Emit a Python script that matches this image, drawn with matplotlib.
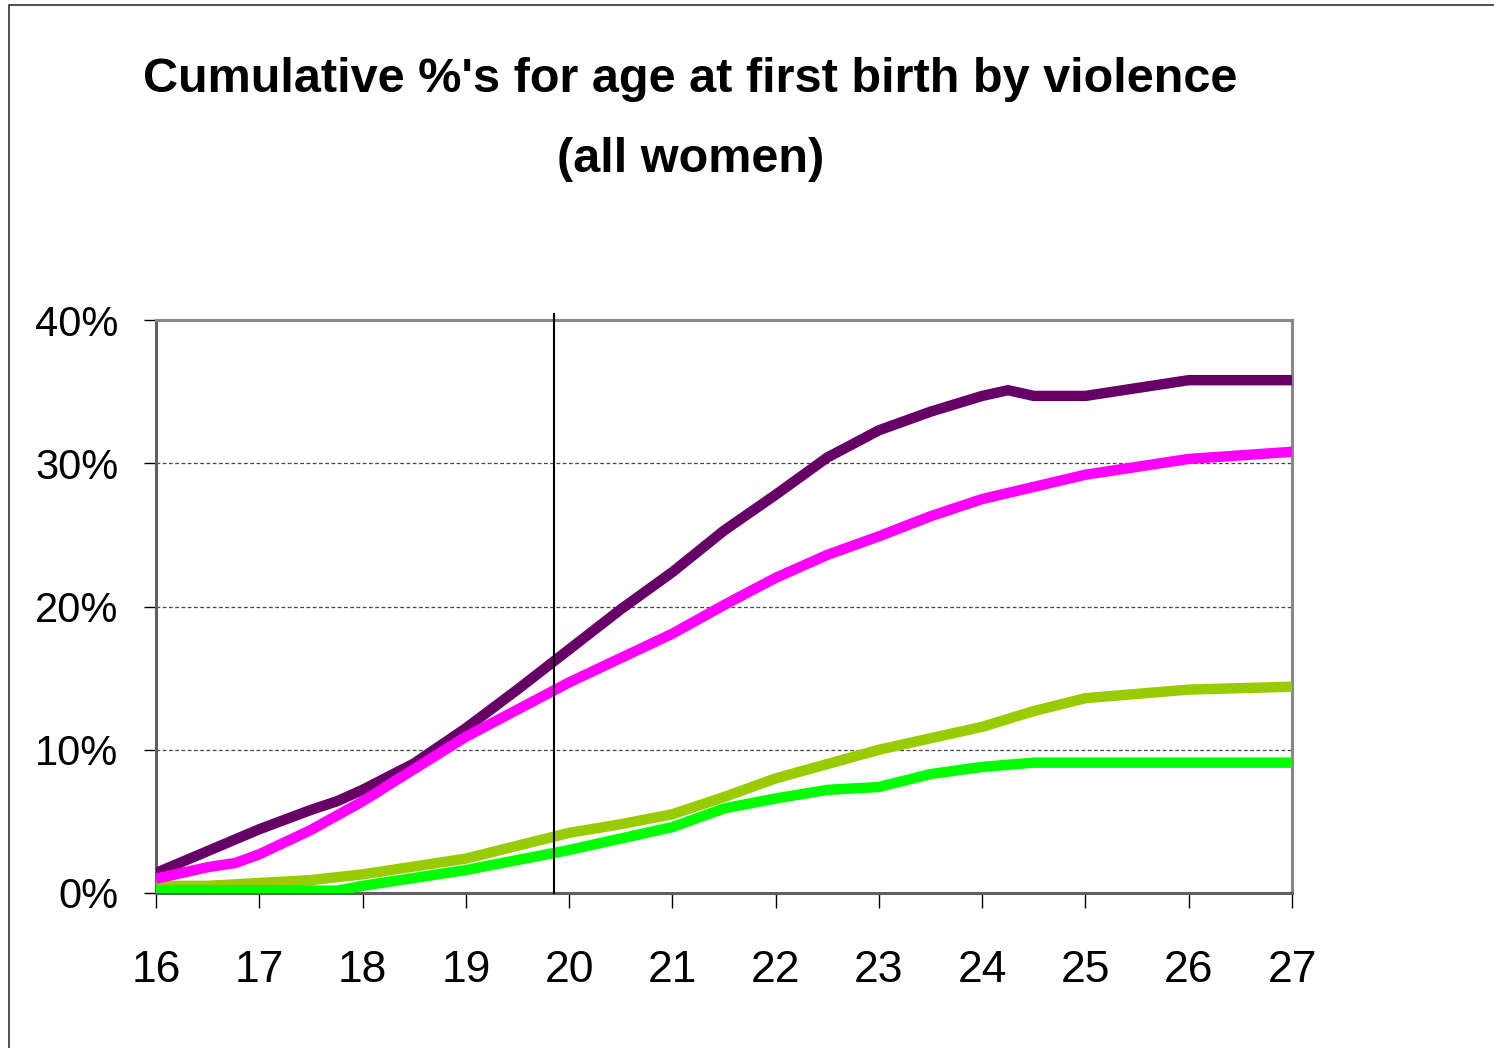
import matplotlib.pyplot as plt
from matplotlib.patches import Rectangle
from matplotlib.ticker import PercentFormatter

# ages (years) and cumulative % for each group
age_purple = [16, 17, 17.5, 17.75, 18, 18.5, 19, 19.5, 20, 20.5, 21, 21.5, 22, 22.5, 23, 23.5, 24, 24.25, 24.5, 25, 26, 27]
pct_purple = [1.4, 4.45, 5.8, 6.4, 7.2, 9.05, 11.5, 14.2, 17.0, 19.8, 22.4, 25.3, 27.8, 30.4, 32.3, 33.6, 34.7, 35.1, 34.7, 34.7, 35.8, 35.8]

age_magenta = [16, 16.5, 16.77, 17, 17.5, 18, 19, 20, 20.5, 21, 21.5, 22, 22.5, 23, 23.5, 24, 25, 26, 27]
pct_magenta = [1.0, 1.8, 2.1, 2.7, 4.4, 6.4, 10.9, 14.7, 16.4, 18.1, 20.1, 22.0, 23.6, 24.9, 26.3, 27.5, 29.2, 30.3, 30.8]

age_olive = [16, 16.5, 17, 17.5, 18, 19, 20, 20.5, 21, 21.5, 22, 23, 24, 24.5, 25, 26, 27]
pct_olive = [0.5, 0.5, 0.7, 0.9, 1.3, 2.4, 4.2, 4.8, 5.5, 6.7, 8.0, 10.0, 11.6, 12.7, 13.6, 14.2, 14.4]

age_green = [16, 17, 17.75, 18, 19, 20, 20.5, 21, 21.5, 22, 22.5, 23, 23.5, 24, 24.5, 25, 26, 27]
pct_green = [0.2, 0.2, 0.16, 0.5, 1.6, 3.0, 3.8, 4.6, 5.9, 6.6, 7.2, 7.4, 8.3, 8.8, 9.1, 9.1, 9.1, 9.1]

x_ticks = list(range(16, 28))
y_ticks = [0, 10, 20, 30, 40]
marker_age = 19.85

plt.rcParams['font.family'] = ['Liberation Sans', 'DejaVu Sans']

fig = plt.figure(figsize=(14.94, 10.48), dpi=100)
ax = fig.add_axes([156 / 1494, 1 - 893 / 1048, (1292 - 156) / 1494, (893 - 320) / 1048])

lw = 7.5
ax.plot(age_olive, pct_olive, color='#99cc00', lw=lw, solid_capstyle='butt', zorder=3)
ax.plot(age_green, pct_green, color='#00ff00', lw=lw, solid_capstyle='butt', zorder=3)
ax.plot(age_purple, pct_purple, color='#660066', lw=lw, solid_capstyle='butt', zorder=3)
ax.plot(age_magenta, pct_magenta, color='#ff00ff', lw=lw, solid_capstyle='butt', zorder=3)

ax.axvline(marker_age, ymin=0, ymax=1.01, color='black', lw=1.5, clip_on=False, zorder=4)

ax.set_xlim(16, 27)
ax.set_ylim(0, 40)
ax.set_xticks(x_ticks)
ax.set_yticks(y_ticks)
ax.yaxis.set_major_formatter(PercentFormatter(decimals=0))
ax.grid(axis='y', color='#444444', ls=(0, (3, 2)), lw=0.9)
ax.set_axisbelow(True)

ax.tick_params(axis='y', direction='out', length=9, width=1, colors='black', labelsize=30, pad=18)
ax.tick_params(axis='x', direction='out', length=11, width=1, colors='black', labelsize=32, pad=30)

for side in ['left', 'bottom']:
    ax.spines[side].set_color('#606060')
    ax.spines[side].set_linewidth(2.2)
for side in ['top', 'right']:
    ax.spines[side].set_color('#888888')
    ax.spines[side].set_linewidth(2.2)

fig.text(0.462, 1 - 80 / 1048, "Cumulative %'s for age at first birth by violence",
         ha='center', va='center', fontsize=35, fontweight='bold')
fig.text(0.462, 1 - 160 / 1048, "(all women)",
         ha='center', va='center', fontsize=35, fontweight='bold')

# outer chart border (only left and top visible in the crop)
fig.patches.append(Rectangle((9 / 1494, -0.05), 1.1, 1 - 5 / 1048 + 0.05,
                             transform=fig.transFigure, fill=False,
                             edgecolor='#333333', lw=1.2))

fig.savefig('out.png', dpi=100)
